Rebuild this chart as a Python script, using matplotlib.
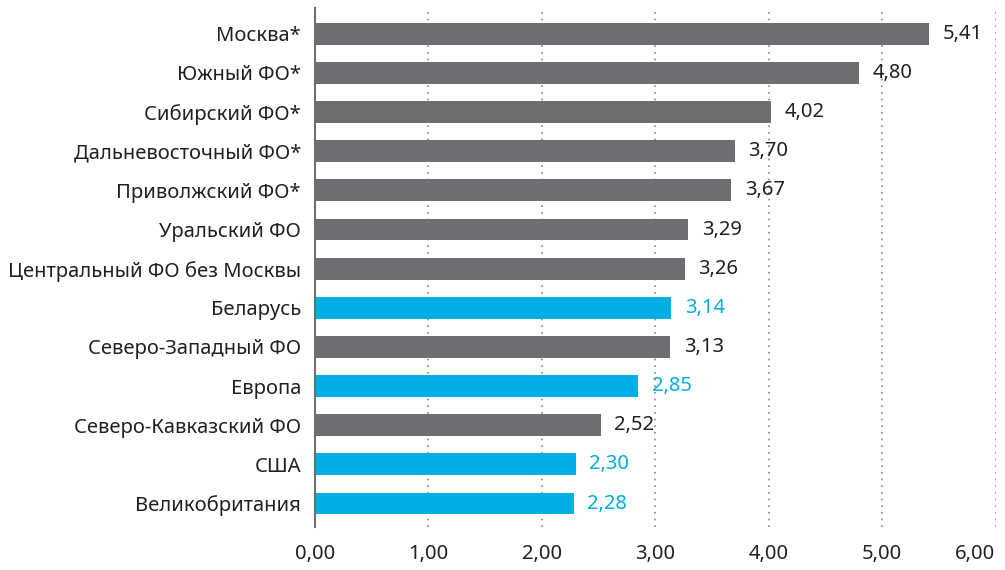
import matplotlib.pyplot as plt
import numpy as np

plt.rcParams.update({
    "font.family": ["Noto Sans", "DejaVu Sans"],
    "font.size": 14.5,
})

REGIONS = [
    "Москва*", "Южный ФО*", "Сибирский ФО*", "Дальневосточный ФО*",
    "Приволжский ФО*", "Уральский ФО", "Центральный ФО без Москвы",
    "Беларусь", "Северо-Западный ФО", "Европа", "Северо-Кавказский ФО",
    "США", "Великобритания",
]
VALUES = [5.41, 4.80, 4.02, 3.70, 3.67, 3.29, 3.26, 3.14, 3.13, 2.85, 2.52, 2.30, 2.28]
FOREIGN = ["Беларусь", "Европа", "США", "Великобритания"]
XTICKS = [0, 1, 2, 3, 4, 5, 6]

GRAY = "#6d6e71"
BLUE = "#00aee6"
TEXT = "#231f20"

fig = plt.figure(figsize=(10.05, 5.70), dpi=100)
ax = fig.add_axes([315 / 1005, 1 - 527 / 570, (995.5 - 315) / 1005, 519 / 570])

y = np.arange(len(REGIONS))
colors = [BLUE if r in FOREIGN else GRAY for r in REGIONS]
ax.barh(y, VALUES, height=0.56, color=colors, zorder=2)

for yi, v, c in zip(y, VALUES, colors):
    tc = BLUE if c == BLUE else TEXT
    ax.text(v + 0.12, yi, f"{v:.2f}".replace(".", ","), va="center", ha="left",
            color=tc, fontsize=14.5)

ax.set_xlim(0, 6)
ax.set_ylim(len(REGIONS) - 0.4, -0.66)
ax.set_yticks(y)
ax.set_yticklabels(REGIONS, color=TEXT)
ax.set_xticks(XTICKS)
ax.set_xticklabels([f"{t:.2f}".replace(".", ",") for t in XTICKS], color=TEXT)
ax.get_xticklabels()[-1].set_horizontalalignment("right")
ax.tick_params(axis="both", length=0)
ax.tick_params(axis="y", pad=10)
ax.tick_params(axis="x", pad=12)

for t in XTICKS[1:]:
    ax.axvline(t, color="#888888", lw=1.2, ls=(0, (1, 3)), zorder=1)

for s in ["top", "right", "bottom"]:
    ax.spines[s].set_visible(False)
ax.spines["left"].set_color(GRAY)
ax.spines["left"].set_linewidth(1.5)

fig.savefig("out.png", dpi=100)
